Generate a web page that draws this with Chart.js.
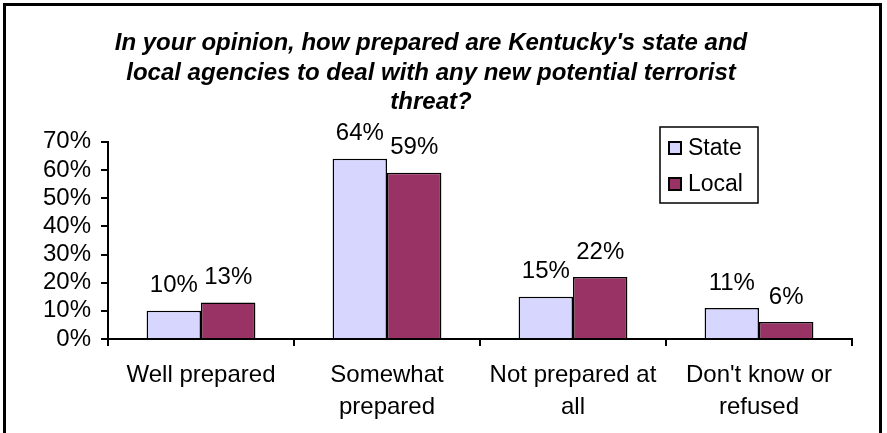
<!DOCTYPE html>
<html>
<head>
<meta charset="utf-8">
<script src="https://cdn.jsdelivr.net/npm/chart.js@4"></script>
<style>
  html, body { margin: 0; padding: 0; background: #fff; }
  #wrap { width: 887px; height: 433px; }
</style>
</head>
<body>
<div id="wrap"><canvas id="prepChart" width="887" height="433"></canvas></div>
<script>
// data
const categories = [["Well prepared"], ["Somewhat", "prepared"], ["Not prepared at", "all"], ["Don't know or", "refused"]];
const stateValues = [10, 64, 15, 11];
const localValues = [13, 59, 22, 6];
const yTicks = [0, 10, 20, 30, 40, 50, 60, 70];
const titleLines = [
  "In your opinion, how prepared are Kentucky's state and",
  "local agencies to deal with any new potential terrorist",
  "threat?"
];

const FONT = "'Liberation Sans', Arial, sans-serif";

// outer frame
const framePlugin = {
  id: "frame",
  afterDraw(chart) {
    const c = chart.ctx;
    c.save();
    c.strokeStyle = "#000";
    c.lineWidth = 3;
    c.strokeRect(4.5, 4.5, 876, 440);
    c.restore();
  }
};

// value labels above bars
const valueLabels = {
  id: "valueLabels",
  afterDatasetsDraw(chart) {
    const c = chart.ctx;
    c.save();
    c.font = "24px " + FONT;
    c.fillStyle = "#000";
    c.textAlign = "center";
    c.textBaseline = "middle";
    chart.data.datasets.forEach((ds, i) => {
      chart.getDatasetMeta(i).data.forEach((bar, j) => {
        c.fillText(ds.data[j] + "%", bar.x, bar.y - 25);
      });
    });
    c.restore();
  }
};

// boxed legend inside the plot, top right
const boxLegend = {
  id: "boxLegend",
  afterDraw(chart) {
    const c = chart.ctx;
    c.save();
    c.lineWidth = 1.5;
    c.strokeStyle = "#000";
    c.fillStyle = "#fff";
    c.fillRect(660, 127, 98, 76);
    c.strokeRect(660, 127, 98, 76);
    c.font = "23px " + FONT;
    c.textBaseline = "middle";
    c.textAlign = "left";
    chart.data.datasets.forEach((ds, i) => {
      const y = 148 + i * 36;
      c.fillStyle = ds.backgroundColor;
      c.fillRect(669, y - 6, 12, 12);
      c.lineWidth = 2;
      c.strokeRect(669, y - 6, 12, 12);
      c.fillStyle = "#000";
      c.fillText(ds.label, 688, y + 1);
    });
    c.restore();
  }
};

new Chart(document.getElementById("prepChart"), {
  type: "bar",
  data: {
    labels: categories,
    datasets: [
      {
        label: "State",
        data: stateValues,
        backgroundColor: "#D6D6FF",
        borderColor: "#000",
        borderWidth: 1.5
      },
      {
        label: "Local",
        data: localValues,
        backgroundColor: "#993366",
        borderColor: "#000",
        borderWidth: 1.5
      }
    ]
  },
  options: {
    responsive: false,
    animation: false,
    devicePixelRatio: 1,
    layout: { padding: { top: 4, left: 10, right: 35, bottom: 0 } },
    datasets: {
      bar: { categoryPercentage: 0.585, barPercentage: 1 }
    },
    scales: {
      x: {
        grid: { display: true, offset: true, drawOnChartArea: false, tickLength: 7, color: "#000", lineWidth: 2 },
        border: { display: true, color: "#000", width: 2 },
        ticks: { color: "#000", font: { family: FONT, size: 24, lineHeight: 1.33 }, padding: 13, maxRotation: 0, autoSkip: false },
        afterFit(scale) { scale.height = 94; }
      },
      y: {
        min: 0,
        max: 70,
        afterBuildTicks(scale) { scale.ticks = yTicks.map(v => ({ value: v })); },
        grid: { display: true, drawOnChartArea: false, tickLength: 7, color: "#000", lineWidth: 2 },
        border: { display: true, color: "#000", width: 2 },
        ticks: {
          color: "#000",
          font: { family: FONT, size: 24 },
          padding: 10,
          autoSkip: false,
          callback: v => v + "%"
        },
        afterFit(scale) { scale.width = 98; }
      }
    },
    plugins: {
      legend: { display: false },
      tooltip: { enabled: false },
      title: {
        display: true,
        text: titleLines,
        color: "#000",
        font: { family: FONT, size: 24, weight: "bold", style: "italic", lineHeight: 1.22 },
        padding: { top: 25, bottom: 25 }
      }
    }
  },
  plugins: [valueLabels, boxLegend, framePlugin]
});
</script>
</body>
</html>
